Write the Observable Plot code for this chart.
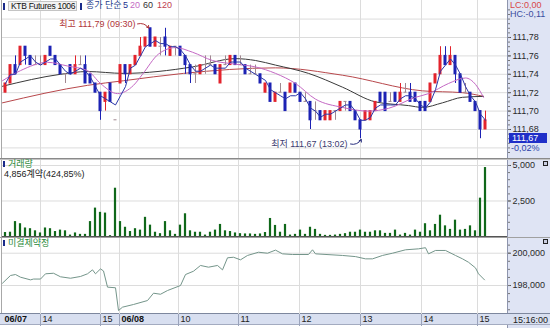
<!DOCTYPE html>
<html><head><meta charset="utf-8">
<script src="https://cdn.jsdelivr.net/npm/d3@7"></script>
<script src="https://cdn.jsdelivr.net/npm/@observablehq/plot@0.6"></script>
<style>
html,body{margin:0;padding:0;background:#fff;}
#chart{position:relative;width:550px;height:328px;overflow:hidden;background:#fff;font-family:"Liberation Sans","Noto Sans CJK KR",sans-serif;}
#chart svg{position:absolute;left:0;}
.abs{position:absolute;white-space:nowrap;font-size:9px;line-height:9px;}
.bar{position:absolute;width:2px;height:7px;background:#1a2a8a;}
.ln{position:absolute;}
</style></head><body><div id="chart"></div>
<script>
// ---------- data (5-minute bars, index 0 = 06/07 13:25) ----------
// prices stored as ticks above 111.60 (1 tick = 0.01)
const BASE = 111.60, TICK = 0.01;
const openT = [12,13,15,15,17,16,15,15,15,17, 16,15,14,15,14,15,15,14,13,12,
  11,13,9,13,15,14,15,16,17,19, 17,17,18,16,17,17,16,15,14,14,
  15,15,15,13,15,15,16,15,15,14, 14,14,12,13,11,12,12,12,13,12,
  11,11,10,10,9,9,10,10,11,11, 10,9,9,9,10,12,12,11,12,11,
  12,12,12,11,11,11,13,14,16,15, 16,14,12,12,11,10,8];
const highT = [13,15,16,17,17,16,16,16,16,17, 16,15,14,15,16,16,16,14,13,12,
  12,13,9,15,15,15,16,18,18,19, 18,18,19,17,17,17,16,15,15,15,
  16,16,15,15,16,16,16,16,15,15, 15,14,13,13,12,13,12,13,13,12,
  12,11,11,10,10,10,10,11,11,11, 10,9,10,10,11,12,12,12,12,13,
  13,13,12,11,11,13,14,17,17,17, 16,14,13,12,11,10,10];
const lowT = [12,13,14,15,15,15,15,15,15,16, 15,14,13,14,14,15,13,13,12,9,
  10,11,9,13,13,14,15,16,17,17, 17,16,16,16,16,16,14,13,13,14,
  14,15,14,13,15,15,15,15,14,14, 14,13,12,11,11,12,10,12,12,11,
  11,8,9,9,9,9,9,10,10,10, 9,7,9,9,10,11,10,11,11,11,
  12,11,11,10,10,11,13,14,15,15, 13,12,12,11,10,7,8];
const closeT = [13,15,14,17,16,15,15,15,16,16, 15,14,14,14,15,15,13,13,12,10,
  12,11,9,15,14,15,16,17,18,17, 18,17,17,17,17,16,15,14,14,15,
  15,15,14,15,15,16,15,15,14,14, 14,13,13,11,12,12,10,13,12,11,
  11,9,10,9,10,10,10,11,11,10, 9,8,10,10,11,11,10,11,11,12,
  12,11,11,10,10,13,14,16,15,16, 14,12,12,11,10,8,9];
const volume = [280,300,1050,900,600,550,400,250,600,550,
  350,450,400,100,250,150,150,1050,2000,1700,
  1650,60,3400,1050,650,350,550,450,1350,800,
  300,200,1050,400,150,800,1600,400,300,300,
  100,300,450,850,400,350,250,200,180,180,
  150,180,280,1270,780,300,850,100,150,450,
  150,650,500,150,80,80,100,150,200,300,
  300,450,300,300,400,400,220,220,450,100,
  220,100,450,300,900,400,850,1500,750,500,
  1150,450,500,750,400,2700,4856];
// moving averages (bar index, price)
const ma20Idx = [-0.6,3,8.4,12.4,16.4,19,22.4,25.6,27.4,30.6,34,37.4,41.4,46,50,54,58,62,67.4,72.6,76.6,82,84.6,88.6,92,94,95.6];
const ma20Val = [111.733,111.744,111.753,111.749,111.744,111.730,111.719,111.728,111.740,111.762,111.769,111.764,111.755,111.751,111.748,111.741,111.730,111.713,111.704,111.700,111.703,111.715,111.719,111.730,111.736,111.729,111.715];
const ma60Idx = [-0.6,11,16.4,23.6,37.4,46,50,54,60.6,67.4,74,80.6,83.4,87.4,91.4,95.6];
const ma60Val = [111.727,111.740,111.743,111.741,111.748,111.757,111.755,111.750,111.741,111.726,111.710,111.706,111.704,111.709,111.715,111.716];
const ma120Idx = [-0.6,16.4,23.6,35.6,54,67.4,83.4,91.4,95.6];
const ma120Val = [111.709,111.728,111.733,111.741,111.747,111.739,111.722,111.720,111.716];
// open interest (bar index, contracts)
const oiIdx = [-0.6,1,2,3,5,5.6,7,8,9.6,11,13,15,16.4,17.4,18,19,19.6,20.4,22,22.6,23.4,25.6,28.4,29.6,31,32.4,35,36,37.6,39,40.6,42.4,43.4,44.4,45.6,47,48.4,50.6,52.4,54,55.4,57.4,60.6,61.4,62,67.4,70,72,73.4,75.4,77.4,80,82.6,84,84.6,86,88,90,91.4,92.6,94,94.6,95.8];
const oiVal = [198143,198620,198680,198515,198350,198400,198400,198725,198760,198540,198450,198560,198725,198970,198725,199030,198900,197900,197860,196450,196660,196825,197070,197525,197460,197690,198000,198680,198885,199240,199135,199240,198970,199715,199750,199590,199860,200060,200000,200190,199960,199920,199920,200210,199960,199860,199790,199650,199650,199860,200000,200210,200270,200340,199960,200170,200170,199860,199650,199440,199090,198725,198350];
// axis ticks
const priceTicks = [111.68,111.70,111.72,111.74,111.76,111.78];
const priceGrid = [111.66,111.68,111.70,111.72,111.74,111.76,111.78,111.80];
const volTicks = [2500,5000];
const oiTicks = [198000,200000];
const timeTickPos = [7,19,22.8,34.6,46.6,58.8,71,83.2,94.4];
const timeLabels = ["14","15","06/08","10","11","12","13","14","15"];
const dayLabels = ["06/07","06/08"];
const hiTime = "09:30", loTime = "13:02";

// ---------- build ----------
const FONT = '"Liberation Sans","Noto Sans CJK KR",sans-serif';
const W = 550, xDomain = [-0.6, 100.4];
const bars = openT.map((o, i) => ({i, o: BASE + o*TICK, h: BASE + highT[i]*TICK, l: BASE + lowT[i]*TICK, c: BASE + closeT[i]*TICK, v: volume[i]}));
const UP = "#e3232c", DOWN = "#1c22b4", FLAT = "#a08890";
const col = d => d.c > d.o + 1e-9 ? UP : d.c < d.o - 1e-9 ? DOWN : FLAT;
const fmtP = d => d.toFixed(2).replace(".", ",");
const fmtN = d3.format(",");
const GRID = "#dcdcdc";
const zip = (a, b) => a.map((x, k) => ({x, y: b[k]}));
const hi = bars.reduce((a, b) => b.h > a.h ? b : a);
const lo = bars.reduce((a, b) => b.l < a.l ? b : a);

function panel(h, yDomain, marks, mb = 0) {
  return Plot.plot({
    width: W, height: h, marginLeft: 2, marginRight: 43, marginTop: 0, marginBottom: mb,
    x: {domain: xDomain, axis: null}, y: {domain: yDomain, axis: null},
    color: {type: "identity"},
    style: {background: "transparent", fontFamily: FONT, fontSize: "9px", color: "#2a2a2a", overflow: "visible"},
    marks
  });
}

const pricePlot = panel(159, [111.6474, 111.8202], [
  Plot.ruleY(priceGrid, {stroke: GRID}),
  Plot.ruleX(timeTickPos, {stroke: GRID}),
  Plot.line(zip(ma120Idx, ma120Val), {x: "x", y: "y", stroke: "#b8484c", strokeWidth: 1, curve: "monotone-x"}),
  Plot.line(zip(ma60Idx, ma60Val), {x: "x", y: "y", stroke: "#3a3a3a", strokeWidth: 1, curve: "monotone-x"}),
  Plot.ruleX(bars, {x: "i", y1: "l", y2: "h", stroke: col, strokeWidth: 1}),
  Plot.rect(bars, {x1: d => d.i - 0.3, x2: d => d.i + 0.3, y1: "o", y2: "c", fill: col, insetTop: -0.5, insetBottom: -0.5}),
  Plot.line(zip(ma20Idx, ma20Val), {x: "x", y: "y", stroke: "#c468c4", strokeWidth: 1, curve: "monotone-x"}),
  Plot.lineY(bars, Plot.windowY({k: 3, anchor: "end"}, {x: "i", y: "c", stroke: "#2a35a8", strokeWidth: 1})),
  Plot.axisY({anchor: "right", ticks: priceTicks, tickSize: 3, tickPadding: 2, tickFormat: fmtP, label: null, stroke: "#555"}),
  Plot.axisY({anchor: "right", ticks: d3.range(111.655, 111.81, 0.005), tickSize: 2, tickFormat: () => "", label: null, stroke: "#777"}),
  Plot.arrow([hi], {x1: d => d.i - 2.6, y1: d => d.h + 0.0048, x2: d => d.i - 0.35, y2: d => d.h + 0.0002, bend: 35, stroke: "#b0363a", headLength: 4, strokeWidth: 1}),
  Plot.text([hi], {x: d => d.i - 2.6, y: d => d.h + 0.0042, text: d => `최고 ${fmtP(d.h)} (${hiTime})`, textAnchor: "end", dx: -2, fill: "#b0363a"}),
  Plot.arrow([lo], {x1: d => lo.i - 2, y1: d => d.l - 0.0058, x2: d => d.i + 0.15, y2: d => d.l - 0.0008, bend: -40, stroke: "#2a3080", headLength: 4, strokeWidth: 1}),
  Plot.text([lo], {x: d => d.i - 2, y: d => d.l - 0.0058, text: d => `최저 ${fmtP(d.l)} (${loTime})`, textAnchor: "end", dx: -3, fill: "#3c3c70"})
]);

const volPlot = panel(77, [0, 5422.5], [
  Plot.ruleY(volTicks, {stroke: GRID}),
  Plot.ruleX(timeTickPos, {stroke: GRID}),
  Plot.rect(bars, {x1: d => d.i - 0.22, x2: d => d.i + 0.22, y1: 0, y2: "v", fill: "#10681a"}),
  Plot.axisY({anchor: "right", ticks: volTicks, tickSize: 3, tickPadding: 2, tickFormat: fmtN, label: null, stroke: "#555"}),
  Plot.axisY({anchor: "right", ticks: d3.range(500, 5500, 500), tickSize: 2, tickFormat: () => "", label: null, stroke: "#777"})
]);

const oiPlot = panel(90, [196206, 200972], [
  Plot.ruleY(oiTicks, {stroke: GRID}),
  Plot.ruleX(timeTickPos, {stroke: GRID}),
  Plot.ruleX(timeTickPos, {stroke: "#9aa3bb", insetTop: 77, insetBottom: -12}),
  Plot.line(zip(oiIdx, oiVal), {x: "x", y: "y", stroke: "#74958a", strokeWidth: 1}),
  Plot.axisY({anchor: "right", ticks: oiTicks, tickSize: 3, tickPadding: 2, tickFormat: fmtN, label: null, stroke: "#555"}),
  Plot.axisY({anchor: "right", ticks: d3.range(196500, 201000, 500), tickSize: 2, tickFormat: () => "", label: null, stroke: "#777"}),
  Plot.text(timeTickPos.map((p, k) => ({p, t: timeLabels[k]})).filter(d => !dayLabels.includes(d.t)),
    {x: "p", text: "t", frameAnchor: "bottom", dy: 7, dx: 2, textAnchor: "start", fill: "#222"}),
  Plot.text([{p: xDomain[0], t: dayLabels[0]}, ...timeTickPos.map((p, k) => ({p, t: timeLabels[k]})).filter(d => dayLabels.includes(d.t))],
    {x: "p", text: "t", frameAnchor: "bottom", dy: 7, dx: 2, textAnchor: "start", fill: "#111", fontWeight: "bold"})
], 13);

// ---------- assemble ----------
const root = document.getElementById("chart");
function div(css, html = "", cls = "ln") { const e = document.createElement("div"); e.className = cls; e.style.cssText = css; e.innerHTML = html; root.appendChild(e); return e; }
// backgrounds
div("left:507px;top:0;width:43px;height:328px;background:#dfe4f4;");
div("left:0;top:313px;width:550px;height:12px;background:#d8dff0;border-top:1px solid #7d879e;border-bottom:1px solid #a3abc0;box-sizing:border-box;");
// plots
pricePlot.style.top = "0px"; root.appendChild(pricePlot);
volPlot.style.top = "159px"; root.appendChild(volPlot);
oiPlot.style.top = "237px"; root.appendChild(oiPlot);
// frame lines
div("left:1px;top:0;width:1px;height:313px;background:#a8a8a8;");
div("left:507px;top:0;width:1px;height:313px;background:#8e95ad;");
div("left:0;top:158px;width:550px;height:1px;background:#8a8a8a;");
div("left:0;top:159px;width:550px;height:1px;background:#c4c4c4;");
div("left:2px;top:236px;width:505px;height:1px;background:#555;");
div("left:0;top:237px;width:550px;height:1px;background:#a0a0a0;");
div("left:507px;top:325px;width:1px;height:3px;background:#8e95ad;");
// header
div("left:3px;top:3px;", "", "bar");
div("left:8px;top:1px;width:69px;height:10px;background:#f2f2f2;border:1px solid #c4c4c4;box-sizing:border-box;padding-left:2px;color:#111;font-size:8.5px;letter-spacing:-0.3px;line-height:8px;overflow:hidden;", "KTB Futures 1006", "abs");
div("left:80px;top:3px;", "", "bar");
div("left:86px;top:1px;color:#26408c;", "종가 단순", "abs");
div("left:123px;top:1px;color:#1d2f8f;", "5", "abs");
div("left:130px;top:1px;color:#c46ac4;", "20", "abs");
div("left:143px;top:1px;color:#333;", "60", "abs");
div("left:157px;top:1px;color:#c04050;", "120", "abs");
// right-side info
div("left:510px;top:1px;color:#d84848;", "LC:0,00", "abs");
div("left:510px;top:10px;color:#3a4ea0;", "HC:-0,11", "abs");
div("left:509px;top:133px;width:38px;height:10px;background:#1f2fc8;color:#fff;padding-left:3px;padding-top:1px;box-sizing:border-box;", "111,67", "abs");
div("left:511px;top:144px;color:#2a3ea8;", "-0,02%", "abs");
// panel titles
div("left:3px;top:161px;height:6px;", "", "bar");
div("left:8px;top:160px;color:#2a8a3a;", "거래량", "abs");
div("left:4px;top:170px;color:#222;", "4,856계약(424,85%)", "abs");
div("left:3px;top:240px;height:6px;", "", "bar");
div("left:8px;top:239px;color:#2a8a3a;", "미결제약정", "abs");
// small square icons
div("left:543px;top:161px;width:5px;height:5px;border:1px solid #222;background:#c9cde0;box-sizing:border-box;");
div("left:543px;top:239px;width:5px;height:5px;border:1px solid #222;background:#c9cde0;box-sizing:border-box;");
// time
div("left:513px;top:316px;color:#222;", "15:16:00", "abs");
</script></body></html>
